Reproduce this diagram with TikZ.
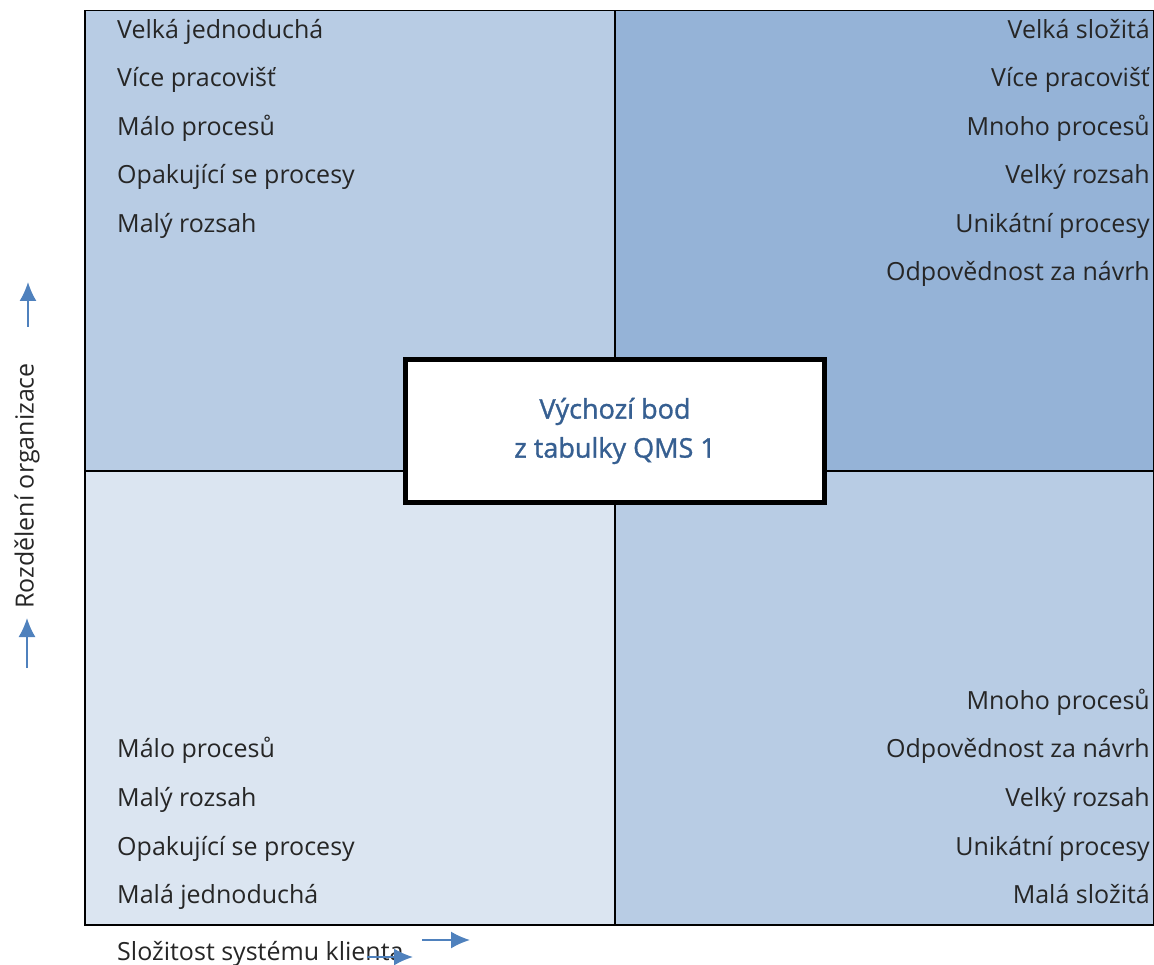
\documentclass[tikz,border=0pt]{standalone}
\usepackage{fontspec}
\setmainfont{Open Sans}
\newfontfamily\titlefont[FakeBold=1.2]{Open Sans}
\usetikzlibrary{arrows,arrows.meta,positioning}
\definecolor{quadmid}{HTML}{B8CCE4}
\definecolor{quaddark}{HTML}{95B3D7}
\definecolor{quadlight}{HTML}{DBE5F1}
\definecolor{titleblue}{HTML}{365F91}
\definecolor{arrowblue}{HTML}{4F81BD}

\begin{document}
\begin{tikzpicture}[x=1pt,y=-1pt,
  quad/.style={rectangle,draw=black,line width=1.5pt,inner sep=0pt,anchor=north west},
  lefttext/.style={anchor=base west,inner sep=0pt,font=\fontsize{25}{30}\selectfont,text=black!85},
  righttext/.style={anchor=base east,inner sep=0pt,font=\fontsize{25}{30}\selectfont,text=black!85},
  axis arrow/.style={-{Latex[length=19pt,width=17pt]},draw=arrowblue,fill=arrowblue,line width=1.8pt}]
\useasboundingbox (0,0) rectangle (1154,965);
% quadrants
\node[quad,fill=quadmid,minimum width=530,minimum height=460] (tl) at (84,10) {};
\node[quad,fill=quaddark,minimum width=539,minimum height=460] (tr) at (614,10) {};
\node[quad,fill=quadlight,minimum width=530,minimum height=454] (bl) at (84,470) {};
\node[quad,fill=quadmid,minimum width=539,minimum height=454] (br) at (614,470) {};
% top left
\node[lefttext] (tl1) at (117,39) {Velká jednoduchá};
\node[lefttext] (tl2) at (117,87) {Více pracovišť};
\node[lefttext] (tl3) at (117,136) {Málo procesů};
\node[lefttext] (tl4) at (117,184) {Opakující se procesy};
\node[lefttext] (tl5) at (117,233) {Malý rozsah};
% top right
\node[righttext] (tr1) at (1150,39) {Velká složitá};
\node[righttext] (tr2) at (1150,87) {Více pracovišť};
\node[righttext] (tr3) at (1150,136) {Mnoho procesů};
\node[righttext] (tr4) at (1150,184) {Velký rozsah};
\node[righttext] (tr5) at (1150,233) {Unikátní procesy};
\node[righttext] (tr6) at (1150,281) {Odpovědnost za návrh};
% bottom left
\node[lefttext] (bl1) at (117,757) {Málo procesů};
\node[lefttext] (bl2) at (117,806) {Malý rozsah};
\node[lefttext] (bl3) at (117,855) {Opakující se procesy};
\node[lefttext] (bl4) at (117,903) {Malá jednoduchá};
% bottom right
\node[righttext] (br1) at (1150,709) {Mnoho procesů};
\node[righttext] (br2) at (1150,757) {Odpovědnost za návrh};
\node[righttext] (br3) at (1150,806) {Velký rozsah};
\node[righttext] (br4) at (1150,855) {Unikátní procesy};
\node[righttext] (br5) at (1150,903) {Malá složitá};
% start point
\node[rectangle,draw=black,line width=4.5pt,fill=white,minimum width=419,minimum height=143,
  align=center,text=titleblue,font=\titlefont\fontsize{27}{39}\selectfont] (start) at (615,431)
  {\raisebox{-5pt}{Výchozí bod}\\\raisebox{-5pt}{z tabulky QMS 1}};
% axes
\node[lefttext,rotate=90,anchor=center] (yaxis) at (27,486) {Rozdělení organizace};
\node[lefttext] (xaxis) at (117,960) {Složitost systému klienta};
\coordinate (ya1) at (28,327);
\coordinate (ya2) at (28,282);
\coordinate (yb1) at (27,668);
\coordinate (yb2) at (27,618);
\coordinate (xa1) at (422,940);
\coordinate (xa2) at (470,940);
\coordinate (xb1) at (367,957);
\coordinate (xb2) at (413,957);
\draw[axis arrow] (ya1) -- (ya2);
\draw[axis arrow] (yb1) -- (yb2);
\draw[axis arrow] (xa1) -- (xa2);
\draw[axis arrow] (xb1) -- (xb2);
\end{tikzpicture}
\end{document}
